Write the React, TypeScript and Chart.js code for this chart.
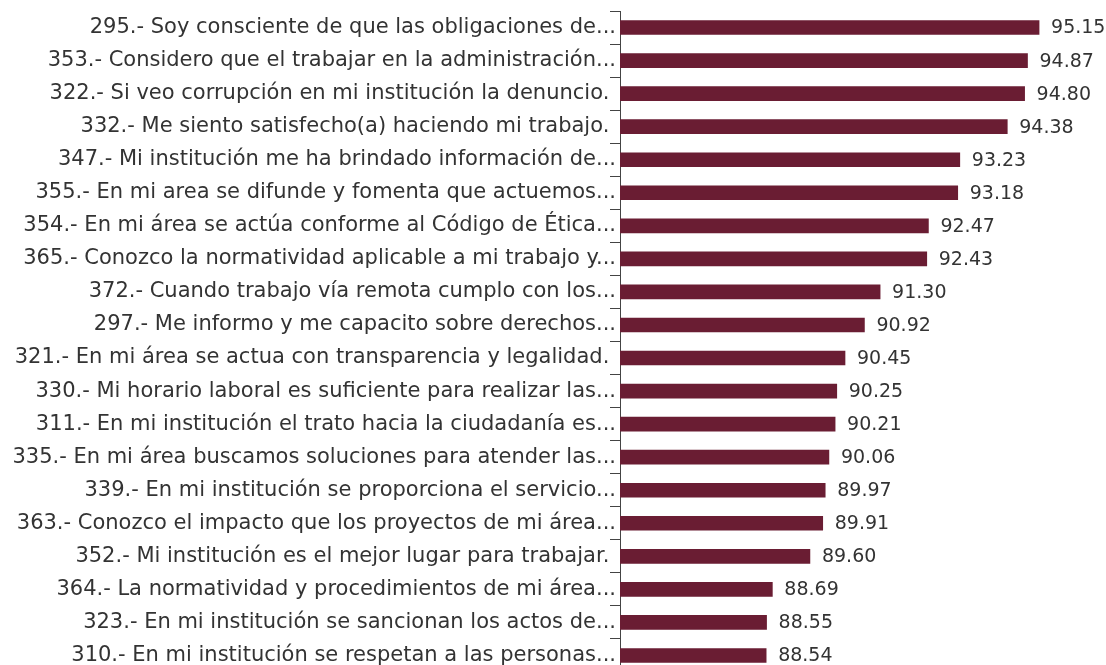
import React, { useEffect, useRef } from "react";
import { Chart, registerables } from "chart.js";

Chart.register(...registerables);

const categories: string[] = [
  "295.- Soy consciente de que las obligaciones de...",
  "353.- Considero que el trabajar en la administración...",
  "322.- Si veo corrupción en mi institución la denuncio. ",
  "332.- Me siento satisfecho(a) haciendo mi trabajo. ",
  "347.- Mi institución me ha brindado información de...",
  "355.- En mi area se difunde y fomenta que actuemos...",
  "354.- En mi área se actúa conforme al Código de Ética...",
  "365.- Conozco la normatividad aplicable a mi trabajo y...",
  "372.- Cuando trabajo vía remota cumplo con los...",
  "297.- Me informo y me capacito sobre derechos...",
  "321.- En mi área se actua con transparencia y legalidad. ",
  "330.- Mi horario laboral es suficiente para realizar las...",
  "311.- En mi institución el trato hacia la ciudadanía es...",
  "335.- En mi área buscamos soluciones para atender las...",
  "339.- En mi institución se proporciona el servicio...",
  "363.- Conozco el impacto que los proyectos de mi área...",
  "352.- Mi institución es el mejor lugar para trabajar. ",
  "364.- La normatividad y procedimientos de mi área...",
  "323.- En mi institución se sancionan los actos de...",
  "310.- En mi institución se respetan a las personas...",
];

const values: number[] = [
  95.15, 94.87, 94.8, 94.38, 93.23, 93.18, 92.47, 92.43, 91.3, 90.92,
  90.45, 90.25, 90.21, 90.06, 89.97, 89.91, 89.6, 88.69, 88.55, 88.54,
];

const xMin = 85;
const xMax = 96.65;

const BAR_COLOR = "#6a1d33";
const TEXT_COLOR = "#333333";
const FONT_FAMILY = "'DejaVu Sans', sans-serif";

const valueLabels = {
  id: "valueLabels",
  afterDatasetsDraw(chart: any) {
    const ctx = chart.ctx;
    const meta = chart.getDatasetMeta(0);
    ctx.save();
    ctx.font = `19px ${FONT_FAMILY}`;
    ctx.fillStyle = TEXT_COLOR;
    ctx.textAlign = "left";
    ctx.textBaseline = "middle";
    meta.data.forEach((bar: any, i: number) => {
      ctx.fillText(values[i].toFixed(2), bar.x + 12, bar.y + 1);
    });
    ctx.restore();
  },
};

export default function App() {
  const canvasRef = useRef<HTMLCanvasElement | null>(null);

  useEffect(() => {
    if (!canvasRef.current) return;
    const chart = new Chart(canvasRef.current, {
      type: "bar",
      data: {
        labels: categories,
        datasets: [
          {
            data: values,
            backgroundColor: BAR_COLOR,
            borderWidth: 0,
            barThickness: 14,
          },
        ],
      },
      options: {
        indexAxis: "y",
        responsive: false,
        animation: false,
        devicePixelRatio: 1,
        layout: { padding: { top: 11, bottom: 8, right: 5, left: 0 } },
        plugins: {
          legend: { display: false },
          tooltip: { enabled: false },
          title: { display: false },
        },
        scales: {
          x: {
            display: false,
            min: xMin,
            max: xMax,
          },
          y: {
            afterFit: (scale: any) => {
              scale.width = 620;
            },
            border: { display: true, color: "#444444", width: 1 },
            grid: {
              display: true,
              drawOnChartArea: false,
              drawTicks: true,
              tickLength: 10,
              color: "#444444",
              lineWidth: 1,
            },
            ticks: {
              autoSkip: false,
              padding: -6,
              color: TEXT_COLOR,
              font: { family: FONT_FAMILY, size: 21 },
            },
          },
        },
      },
      plugins: [valueLabels],
    });
    return () => chart.destroy();
  }, []);

  return (
    <div style={{ position: "absolute", left: 0, top: 0, width: 1106, height: 665, overflow: "hidden" }}>
      <canvas ref={canvasRef} width={1106} height={680} style={{ display: "block" }} />
    </div>
  );
}
